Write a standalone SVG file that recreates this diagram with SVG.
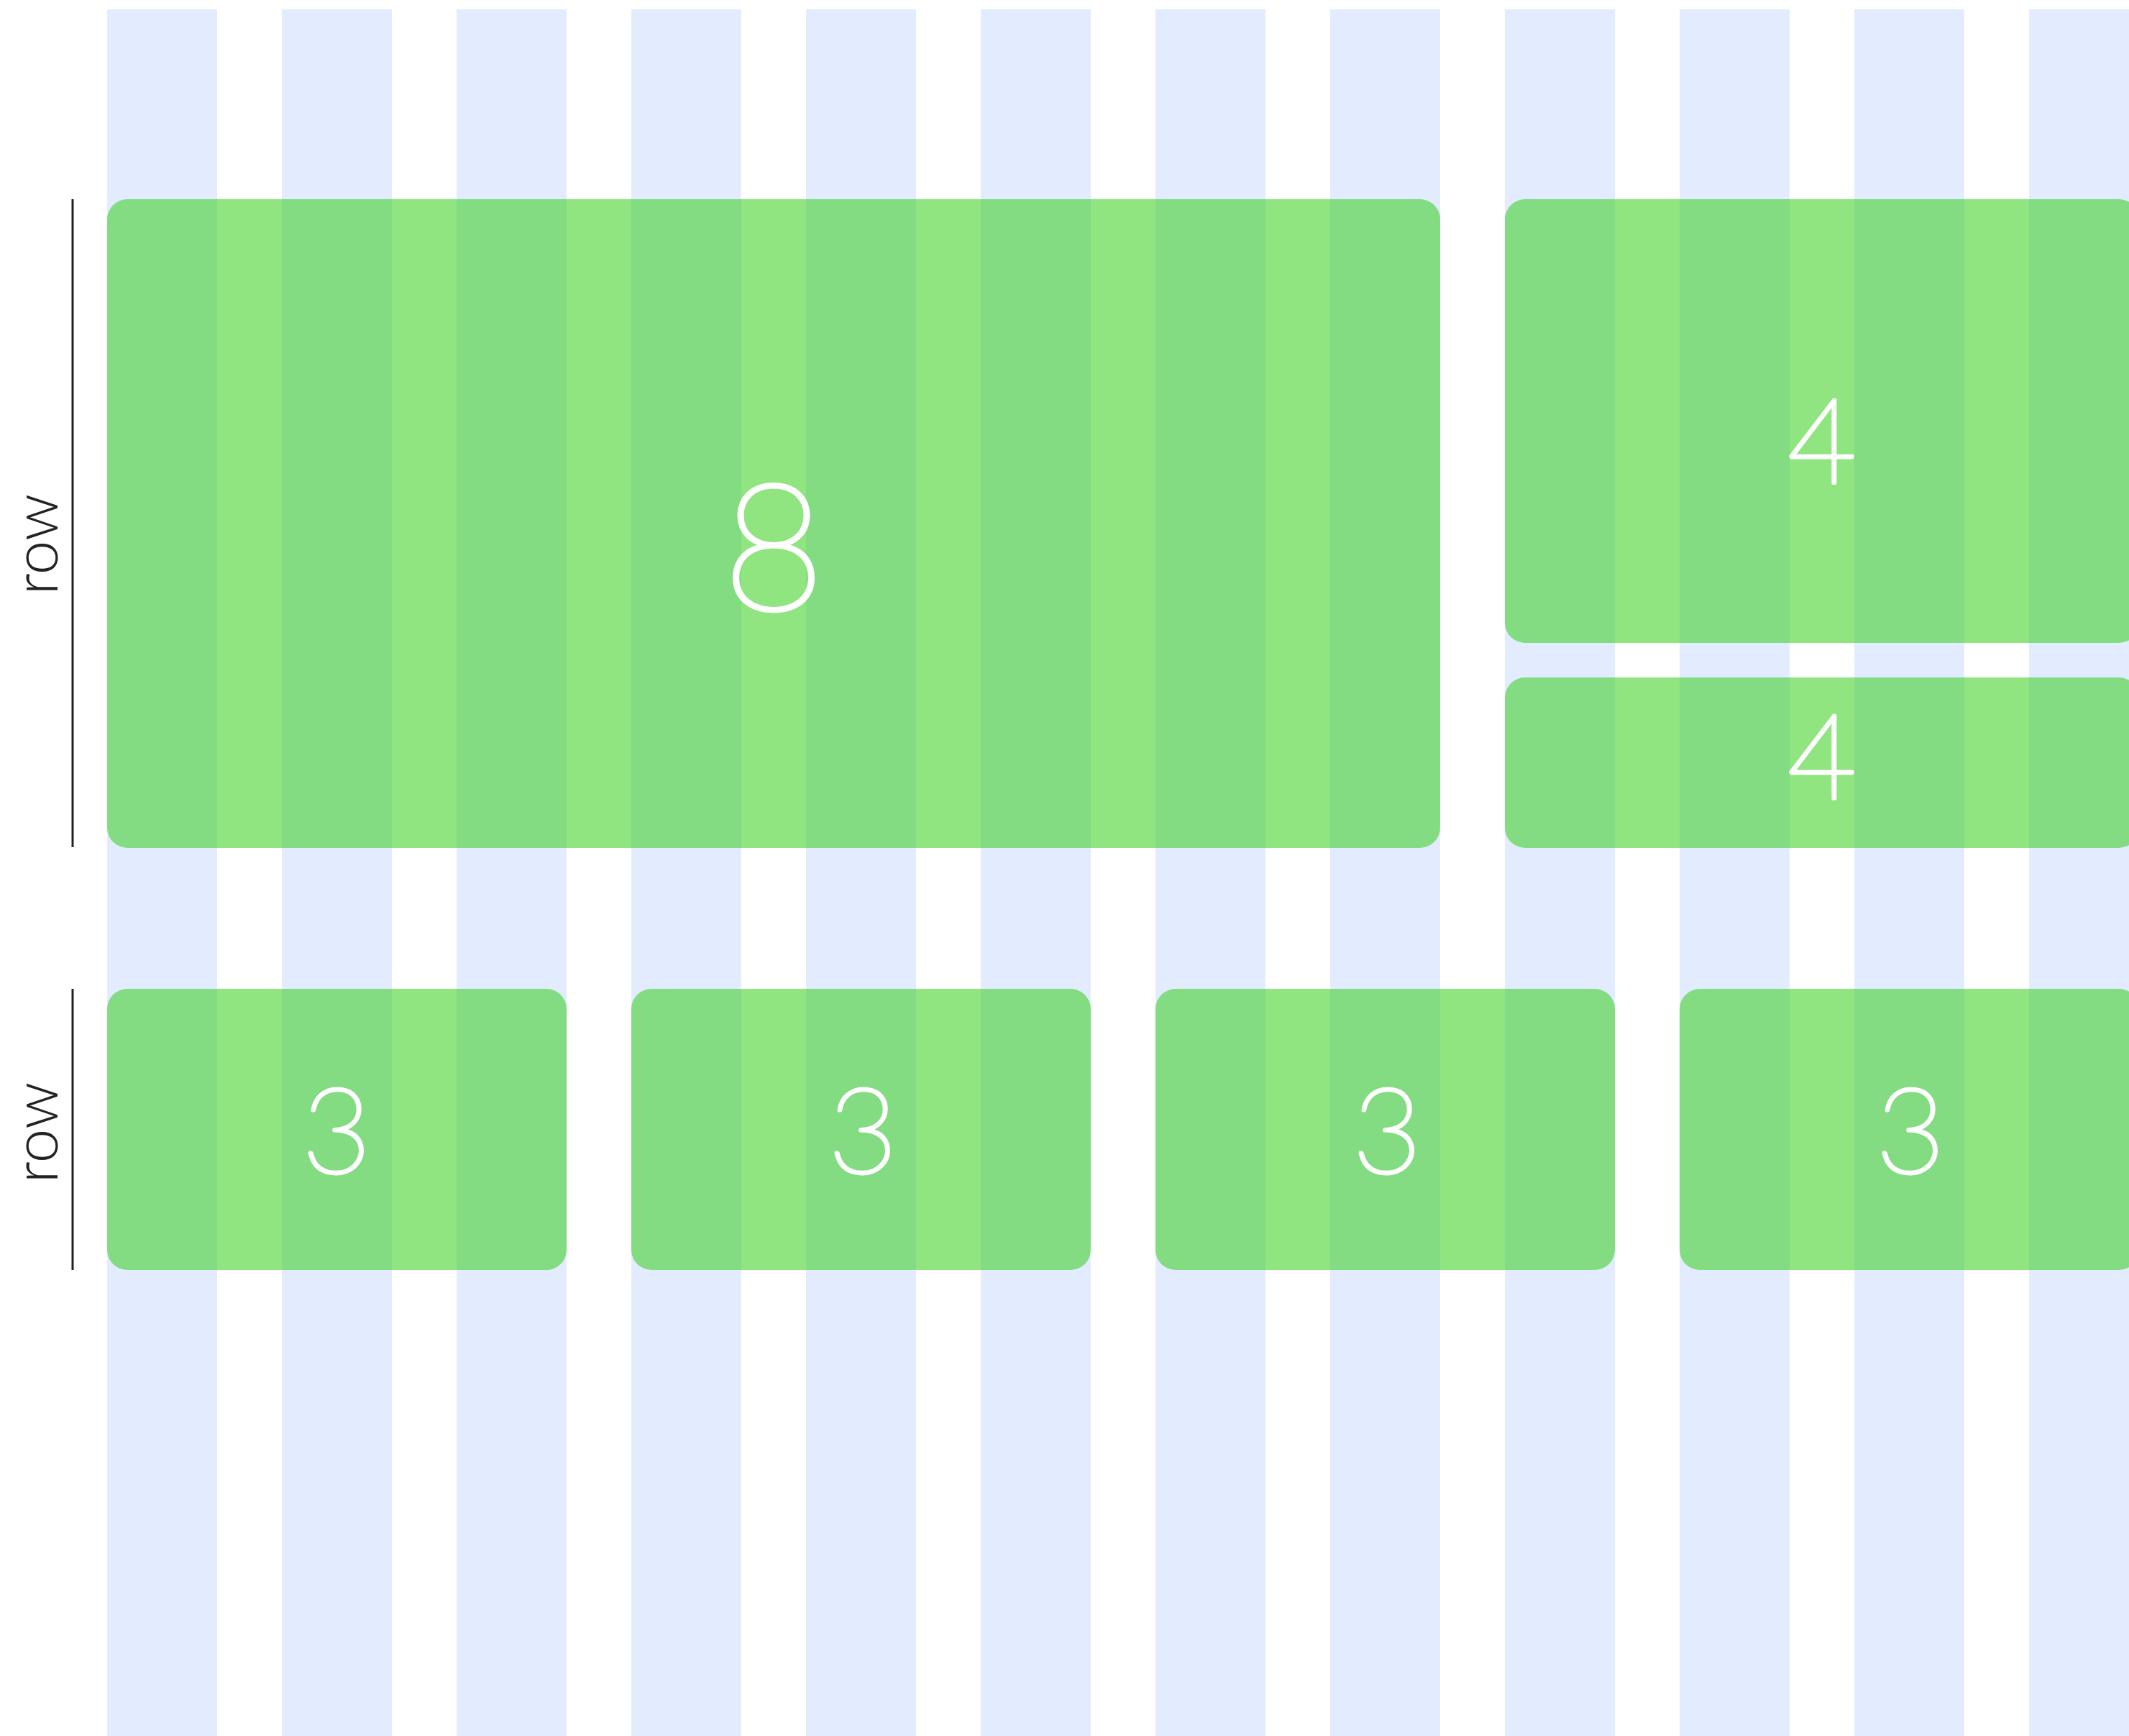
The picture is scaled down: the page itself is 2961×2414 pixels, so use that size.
<svg xmlns="http://www.w3.org/2000/svg" width="2961" height="2414" viewBox="0 0 2961 2414">
<style>
.col{fill:#E3ECFE}
.box{fill:rgb(53,207,26);fill-opacity:0.55}
.num{font-family:Lato,"Open Sans","Liberation Sans",sans-serif;font-weight:100;fill:#ffffff;stroke:#ffffff;stroke-width:5;stroke-linejoin:round;text-anchor:middle}
.lbl{font-family:Lato,"Open Sans","Liberation Sans",sans-serif;font-weight:300;fill:#222;font-size:86px;text-anchor:middle}
.bar{stroke:#222;stroke-width:3;fill:none}
</style>
<rect width="2961" height="2414" fill="#ffffff"/>
<g id="grid-columns">
<rect class="col" x="149" y="13" width="153" height="2401"/>
<rect class="col" x="392" y="13" width="153" height="2401"/>
<rect class="col" x="635" y="13" width="153" height="2401"/>
<rect class="col" x="878" y="13" width="153" height="2401"/>
<rect class="col" x="1121" y="13" width="153" height="2401"/>
<rect class="col" x="1364" y="13" width="153" height="2401"/>
<rect class="col" x="1607" y="13" width="153" height="2401"/>
<rect class="col" x="1850" y="13" width="153" height="2401"/>
<rect class="col" x="2093" y="13" width="153" height="2401"/>
<rect class="col" x="2336" y="13" width="153" height="2401"/>
<rect class="col" x="2579" y="13" width="153" height="2401"/>
<rect class="col" x="2822" y="13" width="153" height="2401"/>
</g>
<g id="row-markers">
<line class="bar" x1="101" y1="277" x2="101" y2="1178"/>
<text class="lbl" transform="translate(80,757) rotate(-90)">row</text>
<line class="bar" x1="101" y1="1375" x2="101" y2="1766"/>
<text class="lbl" transform="translate(80,1575) rotate(-90)">row</text>
</g>
<g id="box-8">
<rect class="box" x="149" y="277" width="1854" height="902" rx="28"/>
<text class="num" x="1076" y="848" font-size="245" style="stroke-width:6">8</text>
</g>
<g id="box-4-top">
<rect class="box" x="2093" y="277" width="882" height="617" rx="28"/>
<text class="num" x="2534" y="672" font-size="165">4</text>
</g>
<g id="box-4-bottom">
<rect class="box" x="2093" y="942" width="882" height="237" rx="28"/>
<text class="num" x="2534" y="1111" font-size="165">4</text>
</g>
<g id="box-3-a">
<rect class="box" x="149" y="1375" width="639" height="391" rx="28"/>
<text class="num" x="468" y="1631" font-size="165">3</text>
</g>
<g id="box-3-b">
<rect class="box" x="878" y="1375" width="639" height="391" rx="28"/>
<text class="num" x="1200" y="1631" font-size="165">3</text>
</g>
<g id="box-3-c">
<rect class="box" x="1607" y="1375" width="639" height="391" rx="28"/>
<text class="num" x="1929" y="1631" font-size="165">3</text>
</g>
<g id="box-3-d">
<rect class="box" x="2336" y="1375" width="639" height="391" rx="28"/>
<text class="num" x="2657" y="1631" font-size="165">3</text>
</g>
</svg>
